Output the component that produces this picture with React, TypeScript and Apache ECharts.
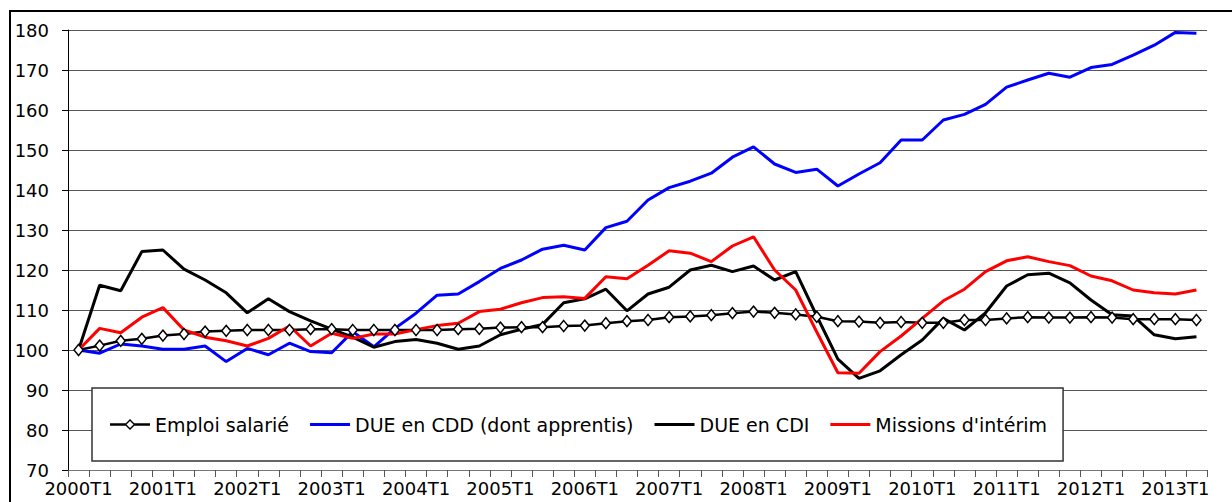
import { useEffect, useRef } from 'react';
import * as echarts from 'echarts';

const quarters = [
  '2000T1', '2000T2', '2000T3', '2000T4', '2001T1', '2001T2', '2001T3', '2001T4',
  '2002T1', '2002T2', '2002T3', '2002T4', '2003T1', '2003T2', '2003T3', '2003T4',
  '2004T1', '2004T2', '2004T3', '2004T4', '2005T1', '2005T2', '2005T3', '2005T4',
  '2006T1', '2006T2', '2006T3', '2006T4', '2007T1', '2007T2', '2007T3', '2007T4',
  '2008T1', '2008T2', '2008T3', '2008T4', '2009T1', '2009T2', '2009T3', '2009T4',
  '2010T1', '2010T2', '2010T3', '2010T4', '2011T1', '2011T2', '2011T3', '2011T4',
  '2012T1', '2012T2', '2012T3', '2012T4', '2013T1', '2013T2',
];

const emploiSalarie = [
  100, 101.1, 102.3, 102.8, 103.6, 104.0, 104.6, 104.8,
  105.0, 105.0, 105.0, 105.2, 105.2, 105.0, 105.0, 105.0,
  105.0, 105.0, 105.2, 105.3, 105.6, 105.7, 105.7, 106.0,
  106.1, 106.7, 107.2, 107.5, 108.2, 108.4, 108.7, 109.2,
  109.6, 109.3, 108.9, 108.3, 107.2, 107.1, 106.8, 107.0,
  106.8, 106.8, 107.5, 107.5, 107.9, 108.2, 108.1, 108.1,
  108.2, 108.1, 107.7, 107.7, 107.7, 107.5,
];

const dueCdd = [
  100, 99.2, 101.5, 101.0, 100.2, 100.2, 101.0, 97.1,
  100.4, 98.8, 101.7, 99.6, 99.3, 104.6, 100.8, 105.4,
  109.2, 113.7, 114.0, 117.1, 120.4, 122.5, 125.2, 126.2,
  125.0, 130.6, 132.2, 137.5, 140.6, 142.2, 144.2, 148.2,
  150.8, 146.5, 144.4, 145.2, 141.0, 144.0, 146.8, 152.5,
  152.5, 157.5, 158.9, 161.4, 165.7, 167.5, 169.2, 168.2,
  170.6, 171.4, 173.7, 176.2, 179.4, 179.2,
];

const dueCdi = [
  100, 116.2, 114.8, 124.6, 125.0, 120.2, 117.5, 114.3,
  109.3, 112.8, 109.6, 107.3, 105.2, 103.2, 100.7, 102.1,
  102.6, 101.7, 100.2, 101.0, 103.8, 105.2, 106.4, 111.8,
  112.8, 115.2, 109.8, 114.0, 115.7, 120.0, 121.2, 119.6,
  121.0, 117.5, 119.6, 108.5, 97.7, 92.9, 94.8, 98.8,
  102.5, 107.9, 105.0, 109.3, 116.0, 118.8, 119.2, 116.8,
  112.5, 108.8, 108.5, 103.8, 102.8, 103.3,
];

const missionsInterim = [
  100, 105.4, 104.3, 108.2, 110.6, 105.0, 103.2, 102.3,
  101.0, 102.9, 106.0, 101.0, 104.2, 102.9, 104.0, 104.0,
  105.1, 106.1, 106.7, 109.6, 110.2, 111.8, 113.1, 113.3,
  112.9, 118.3, 117.8, 121.2, 124.8, 124.2, 122.1, 126.0,
  128.3, 120.0, 115.0, 104.5, 94.3, 94.2, 99.6, 103.5,
  107.9, 112.3, 115.2, 119.6, 122.3, 123.3, 122.1, 121.1,
  118.5, 117.3, 115.0, 114.3, 114.0, 115.0,
];

const seriesNames = [
  'Emploi salarié',
  'DUE en CDD (dont apprentis)',
  'DUE en CDI',
  "Missions d'intérim",
];
const seriesColors = ['#000000', '#0000ff', '#000000', '#ff0000'];

const yMin = 70;
const yMax = 180;
const yStep = 10;

const FONT = 'DejaVu Sans';

const lineIcon = 'path://M0,8.5 L40,8.5 L40,11.5 L0,11.5 Z';
const diamondLineIcon =
  'path://M0,8.5 L15.5,8.5 L15.5,11 L0,11 Z M24.5,8.5 L40,8.5 L40,11 L24.5,11 Z ' +
  'M20,4.25 L25.5,9.75 L20,15.25 L14.5,9.75 Z M20,6.2 L16.5,9.75 L20,13.3 L23.5,9.75 Z';

export default function App() {
  const ref = useRef<HTMLDivElement>(null);

  useEffect(() => {
    if (!ref.current) return;
    const chart = echarts.init(ref.current, null, { renderer: 'svg' });
    const values = [emploiSalarie, dueCdd, dueCdi, missionsInterim];

    chart.setOption({
      animation: false,
      backgroundColor: '#ffffff',
      textStyle: { fontFamily: FONT },
      grid: { left: 68, right: 25, top: 30, bottom: 32, containLabel: false },
      graphic: [
        {
          type: 'rect',
          z: -10,
          shape: { x: 10, y: 11, width: 1260, height: 540 },
          style: { fill: 'none', stroke: '#000000', lineWidth: 2 },
          silent: true,
        },
      ],
      legend: {
        left: 92,
        top: 388,
        orient: 'horizontal',
        itemWidth: 40,
        itemHeight: 19,
        itemGap: 21,
        padding: [27, 16, 27, 18],
        backgroundColor: '#ffffff',
        borderColor: '#333333',
        borderWidth: 1.5,
        borderRadius: 0,
        selectedMode: false,
        textStyle: { fontSize: 19, fontFamily: FONT, color: '#000000' },
        data: seriesNames.map((name, i) => ({
          name,
          icon: i === 0 ? diamondLineIcon : lineIcon,
          itemStyle: { color: seriesColors[i], borderWidth: 0 },
        })),
      },
      xAxis: {
        type: 'category',
        data: quarters,
        boundaryGap: true,
        axisLine: { show: true, lineStyle: { color: '#777777', width: 1 } },
        axisTick: { show: true, interval: 0, length: 7, lineStyle: { color: '#555555' } },
        axisLabel: {
          interval: 3,
          fontSize: 18,
          fontFamily: FONT,
          color: '#000000',
          margin: 9,
        },
        splitLine: { show: false },
      },
      yAxis: {
        type: 'value',
        min: yMin,
        max: yMax,
        interval: yStep,
        axisLine: { show: true, lineStyle: { color: '#000000', width: 1 } },
        axisTick: { show: true, length: 6, lineStyle: { color: '#000000' } },
        axisLabel: { fontSize: 18, fontFamily: FONT, color: '#000000', margin: 19 },
        splitLine: { show: true, lineStyle: { color: '#555555', width: 1 } },
      },
      series: seriesNames.map((name, i) => {
        if (i === 0) {
          return {
            name,
            type: 'line',
            data: values[i],
            symbol: 'diamond',
            symbolSize: [9, 11],
            showAllSymbol: true,
            itemStyle: { color: '#ffffff', borderColor: '#000000', borderWidth: 1.5 },
            lineStyle: { color: '#000000', width: 2.5 },
            z: 2,
          };
        }
        return {
          name,
          type: 'line',
          data: values[i],
          symbol: 'none',
          itemStyle: { color: seriesColors[i] },
          lineStyle: { color: seriesColors[i], width: 3 },
          z: 2,
        };
      }),
    });

    return () => chart.dispose();
  }, []);

  return (
    <div
      ref={ref}
      style={{ position: 'absolute', left: 0, top: 0, width: 1232, height: 502 }}
    />
  );
}
